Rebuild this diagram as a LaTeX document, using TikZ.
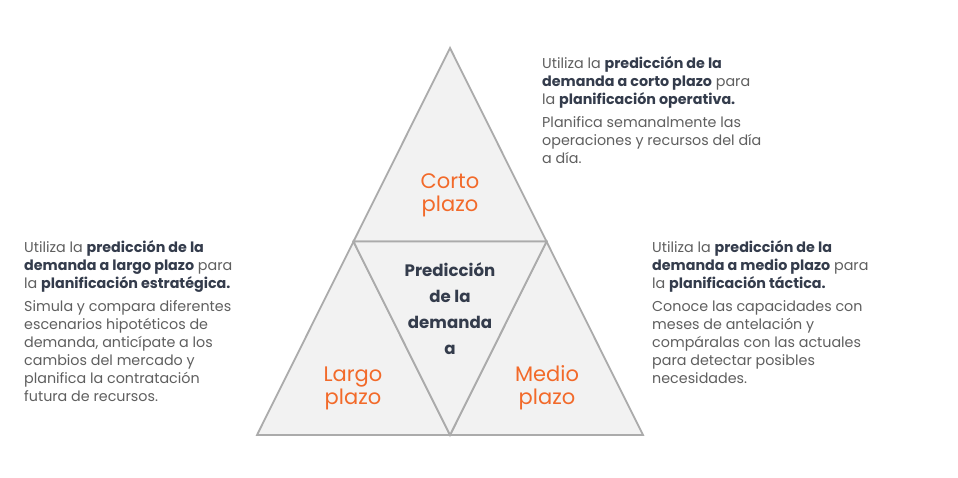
\documentclass[tikz,border=0pt]{standalone}
\usepackage{fontspec}
\setmainfont{Poppins}
\definecolor{tri}{HTML}{F2F2F2}
\definecolor{triline}{HTML}{ABABAB}
\definecolor{orange}{HTML}{F26A2A}
\definecolor{dark}{HTML}{343C4C}
\definecolor{body}{HTML}{5F5F5F}
\begin{document}
\begin{tikzpicture}[x=1pt,y=-1pt,
  tripart/.style={fill=tri,draw=triline,line width=1.8pt,line join=miter},
  levellabel/.style={text=orange,font=\fontsize{21}{23}\selectfont,align=center,inner sep=0pt},
  centerlabel/.style={text=dark,font=\fontsize{16.6}{26}\selectfont\bfseries,align=center,inner sep=0pt},
  desc/.style={anchor=north west,align=left,inner sep=0pt,text=body,font=\fontsize{14.3}{18}\selectfont}]
\useasboundingbox (0,0) rectangle (958,477);
\fill[white] (0,0) rectangle (958,477);
% vertices
\coordinate (A) at (450,48);
\coordinate (B) at (257,435);
\coordinate (C) at (643,435);
\coordinate (AB) at (353.5,241.5);
\coordinate (AC) at (546.5,241.5);
\coordinate (BC) at (450,435);
% triangles
\draw[tripart] (A) -- (AB) -- (AC) -- cycle;
\draw[tripart] (AB) -- (B) -- (BC) -- cycle;
\draw[tripart] (AC) -- (BC) -- (C) -- cycle;
\draw[tripart] (AB) -- (AC) -- (BC) -- cycle;
% labels
\node[levellabel] (corto) at (450,195) {Corto\\plazo};
\node[levellabel] (largo) at (353,388) {Largo\\plazo};
\node[levellabel] (medio) at (547,388) {Medio\\plazo};
\node[centerlabel] (centro) at (450,309) {Predicción\\de la\\demanda\\a};
% descriptions
\node[desc] (dcorto) at (542,56) {Utiliza la \textcolor{dark}{\bfseries predicción de la}\\\textcolor{dark}{\bfseries demanda a corto plazo} para\\la \textcolor{dark}{\bfseries planificación operativa.}\\[5pt]Planifica semanalmente las\\operaciones y recursos del día\\a día.};
\node[desc] (dlargo) at (24,240) {Utiliza la \textcolor{dark}{\bfseries predicción de la}\\\textcolor{dark}{\bfseries demanda a largo plazo} para\\la \textcolor{dark}{\bfseries planificación estratégica.}\\[5pt]Simula y compara diferentes\\escenarios hipotéticos de\\demanda, anticípate a los\\cambios del mercado y\\planifica la contratación\\futura de recursos.};
\node[desc] (dmedio) at (652,240) {Utiliza la \textcolor{dark}{\bfseries predicción de la}\\\textcolor{dark}{\bfseries demanda a medio plazo} para\\la \textcolor{dark}{\bfseries planificación táctica.}\\[5pt]Conoce las capacidades con\\meses de antelación y\\compáralas con las actuales\\para detectar posibles\\necesidades.};
\end{tikzpicture}
\end{document}
